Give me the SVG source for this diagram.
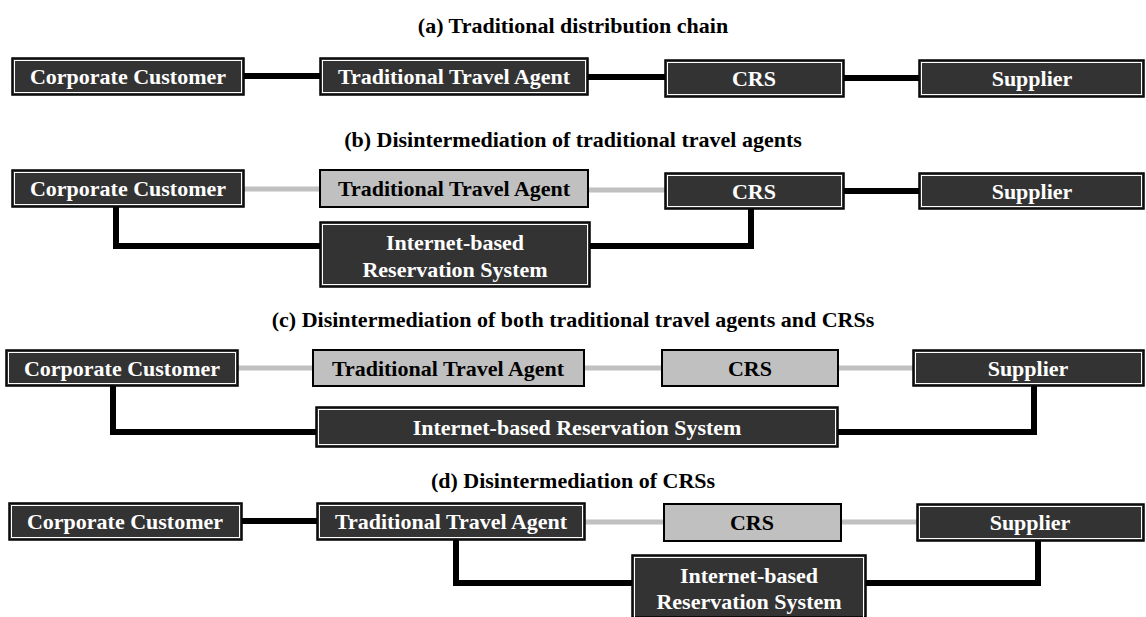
<svg xmlns="http://www.w3.org/2000/svg" width="1146" height="617" viewBox="0 0 1146 617">
<style>
.title{font-family:"Liberation Serif","Times New Roman",serif;font-weight:bold;font-size:22px;fill:#000;text-anchor:middle}
.t{font-family:"Liberation Serif","Times New Roman",serif;font-weight:bold;font-size:22px;text-anchor:middle}
.dk{fill:#333333;stroke:#000;stroke-width:1.5}
.dki{fill:none;stroke:#fff;stroke-width:1}
.lt{fill:#c0c0c0;stroke:#000;stroke-width:2}
.wt{fill:#fff}
.bt{fill:#000}
.cb{fill:none;stroke:#000;stroke-width:6;stroke-linejoin:miter}
.cg{fill:none;stroke:#c0c0c0;stroke-width:5}
</style>
<rect width="1146" height="617" fill="#fff"/>
<text class="title" x="573" y="33">(a) Traditional distribution chain</text>
<text class="title" x="573" y="147">(b) Disintermediation of traditional travel agents</text>
<text class="title" x="573" y="327">(c) Disintermediation of both traditional travel agents and CRSs</text>
<text class="title" x="573" y="488">(d) Disintermediation of CRSs</text>
<g id="connectors">
<line class="cb" x1="244" y1="76" x2="320" y2="76"/>
<line class="cb" x1="588" y1="77" x2="665" y2="77"/>
<line class="cb" x1="844" y1="78" x2="919" y2="78"/>
<line class="cg" x1="244" y1="189" x2="320" y2="189"/>
<line class="cg" x1="588" y1="190" x2="665" y2="190"/>
<line class="cb" x1="844" y1="191" x2="919" y2="191"/>
<polyline class="cb" points="116,207 116,246 320,246"/>
<polyline class="cb" points="590,246 751,246 751,209"/>
<line class="cg" x1="238" y1="368" x2="313" y2="368"/>
<line class="cg" x1="584" y1="368" x2="662" y2="368"/>
<line class="cg" x1="838" y1="368" x2="913" y2="368"/>
<polyline class="cb" points="113,386 113,432 316,432"/>
<polyline class="cb" points="838,432 1034,432 1034,386"/>
<line class="cb" x1="242" y1="521" x2="317" y2="521"/>
<line class="cg" x1="585" y1="522" x2="664" y2="522"/>
<line class="cg" x1="841" y1="522" x2="917" y2="522"/>
<polyline class="cb" points="456,540 456,583 632,583"/>
<polyline class="cb" points="866,583 1038,583 1038,541"/>
</g>
<g id="a-customer"><rect class="dk" x="12" y="58" width="232" height="37"/><rect class="dki" x="14.5" y="60.5" width="227" height="32"/><text class="t wt" x="128" y="84">Corporate Customer</text></g>
<g id="a-agent"><rect class="dk" x="320" y="58" width="268" height="37"/><rect class="dki" x="322.5" y="60.5" width="263" height="32"/><text class="t wt" x="454" y="84">Traditional Travel Agent</text></g>
<g id="a-crs"><rect class="dk" x="665" y="60" width="179" height="37"/><rect class="dki" x="667.5" y="62.5" width="174" height="32"/><text class="t wt" x="754" y="86">CRS</text></g>
<g id="a-supplier"><rect class="dk" x="919" y="60" width="225" height="37"/><rect class="dki" x="921.5" y="62.5" width="220" height="32"/><text class="t wt" x="1032" y="86">Supplier</text></g>

<g id="b-customer"><rect class="dk" x="12" y="170" width="232" height="37"/><rect class="dki" x="14.5" y="172.5" width="227" height="32"/><text class="t wt" x="128" y="196">Corporate Customer</text></g>
<g id="b-agent"><rect class="lt" x="320" y="170" width="268" height="37"/><text class="t bt" x="454" y="196">Traditional Travel Agent</text></g>
<g id="b-crs"><rect class="dk" x="665" y="173" width="179" height="36"/><rect class="dki" x="667.5" y="175.5" width="174" height="31"/><text class="t wt" x="754" y="199">CRS</text></g>
<g id="b-supplier"><rect class="dk" x="919" y="173" width="225" height="36"/><rect class="dki" x="921.5" y="175.5" width="220" height="31"/><text class="t wt" x="1032" y="199">Supplier</text></g>
<g id="b-internet"><rect class="dk" x="320" y="222" width="270" height="65"/><rect class="dki" x="322.5" y="224.5" width="265" height="60"/><text class="t wt" x="455" y="250">Internet-based</text><text class="t wt" x="455" y="277">Reservation System</text></g>

<g id="c-customer"><rect class="dk" x="6" y="350" width="232" height="36"/><rect class="dki" x="8.5" y="352.5" width="227" height="31"/><text class="t wt" x="122" y="376">Corporate Customer</text></g>
<g id="c-agent"><rect class="lt" x="313" y="350" width="271" height="36"/><text class="t bt" x="448" y="376">Traditional Travel Agent</text></g>
<g id="c-crs"><rect class="lt" x="662" y="350" width="176" height="36"/><text class="t bt" x="750" y="376">CRS</text></g>
<g id="c-supplier"><rect class="dk" x="913" y="350" width="231" height="36"/><rect class="dki" x="915.5" y="352.5" width="226" height="31"/><text class="t wt" x="1028" y="376">Supplier</text></g>
<g id="c-internet"><rect class="dk" x="316" y="407" width="522" height="40"/><rect class="dki" x="318.5" y="409.5" width="517" height="35"/><text class="t wt" x="577" y="435">Internet-based Reservation System</text></g>

<g id="d-customer"><rect class="dk" x="9" y="503" width="233" height="37"/><rect class="dki" x="11.5" y="505.5" width="228" height="32"/><text class="t wt" x="125" y="529">Corporate Customer</text></g>
<g id="d-agent"><rect class="dk" x="317" y="503" width="268" height="37"/><rect class="dki" x="319.5" y="505.5" width="263" height="32"/><text class="t wt" x="451" y="529">Traditional Travel Agent</text></g>
<g id="d-crs"><rect class="lt" x="664" y="504" width="177" height="37"/><text class="t bt" x="752" y="530">CRS</text></g>
<g id="d-supplier"><rect class="dk" x="917" y="504" width="227" height="37"/><rect class="dki" x="919.5" y="506.5" width="222" height="32"/><text class="t wt" x="1030" y="530">Supplier</text></g>
<g id="d-internet"><rect class="dk" x="632" y="555" width="234" height="62"/><rect class="dki" x="634.5" y="557.5" width="229" height="62"/><text class="t wt" x="749" y="583">Internet-based</text><text class="t wt" x="749" y="609">Reservation System</text></g>
</svg>
